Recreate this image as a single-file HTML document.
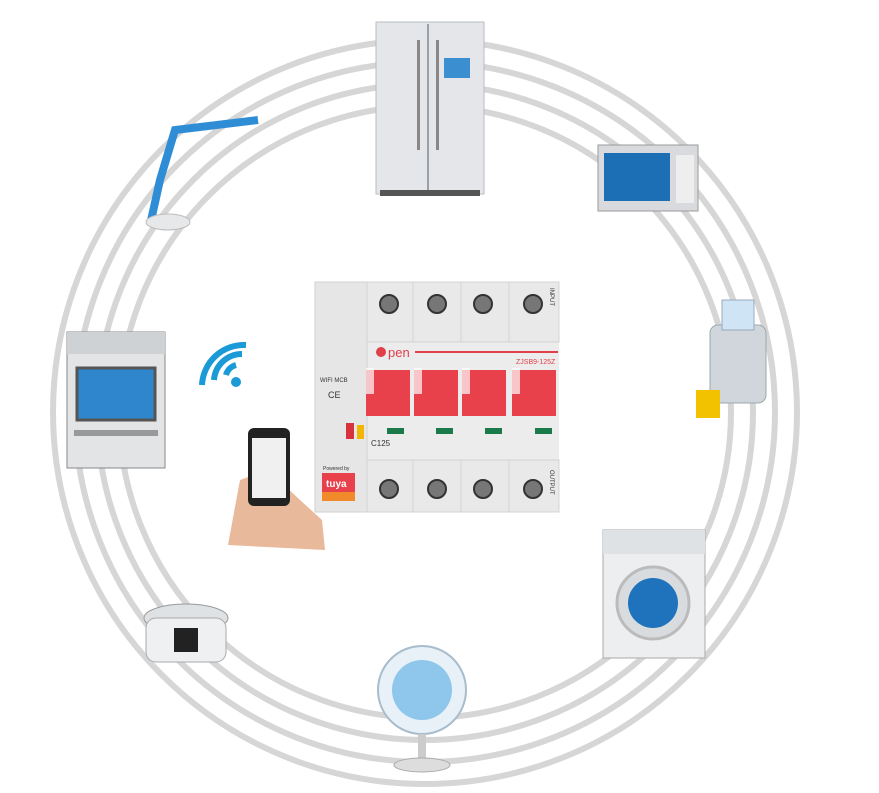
<!DOCTYPE html>
<html><head><meta charset="utf-8"><style>
html,body{margin:0;padding:0;background:#fff;width:879px;height:793px;overflow:hidden}
svg{display:block}
text{font-family:"Liberation Sans",sans-serif}
</style></head><body>
<svg width="879" height="793" viewBox="0 0 879 793">
<g fill="none" stroke="#d6d6d6" stroke-width="6">
<circle cx="425" cy="412" r="372"/>
<circle cx="425" cy="412" r="350"/>
<circle cx="425" cy="412" r="328"/>
<circle cx="425" cy="412" r="306"/>
</g>
<!-- fridge -->
<rect x="376" y="22" width="108" height="172" fill="#e4e6ea" stroke="#b8bcc2"/>
<line x1="428" y1="24" x2="428" y2="192" stroke="#9aa0a8" stroke-width="2"/>
<rect x="417" y="40" width="3" height="110" fill="#888"/><rect x="436" y="40" width="3" height="110" fill="#888"/>
<rect x="444" y="58" width="26" height="20" fill="#3b8fd0"/>
<rect x="380" y="190" width="100" height="6" fill="#555"/>
<!-- microwave -->
<rect x="598" y="145" width="100" height="66" fill="#d8dadd" stroke="#999"/>
<rect x="604" y="153" width="66" height="48" fill="#1d6fb5"/>
<rect x="676" y="155" width="18" height="48" fill="#eee"/>
<!-- lamp -->
<path d="M150 225 L160 180 L175 130 L258 120" stroke="#2f8dd6" stroke-width="8" fill="none"/>
<ellipse cx="168" cy="222" rx="22" ry="8" fill="#e6e8ea" stroke="#bbb"/>
<!-- juicer -->
<rect x="710" y="325" width="56" height="78" rx="8" fill="#d0d6dc" stroke="#9aa"/>
<rect x="722" y="300" width="32" height="30" fill="#cfe4f4" stroke="#9ab"/>
<rect x="696" y="390" width="24" height="28" fill="#f2c200"/>
<!-- oven -->
<rect x="67" y="332" width="98" height="136" fill="#e2e4e6" stroke="#888"/>
<rect x="67" y="332" width="98" height="22" fill="#cfd2d5"/>
<rect x="77" y="368" width="78" height="52" fill="#2f86cc" stroke="#555" stroke-width="3"/>
<rect x="74" y="430" width="84" height="6" fill="#999"/>
<!-- wifi -->
<g fill="none" stroke="#1a9ad6" stroke-width="6">
<path d="M226 375 a14 14 0 0 1 10 -10"/>
<path d="M214 380 a28 28 0 0 1 28 -26"/>
<path d="M202 385 a42 42 0 0 1 44 -40"/>
</g>
<circle cx="236" cy="382" r="5" fill="#1a9ad6"/>
<!-- phone + hand -->
<path d="M228 545 L240 480 L268 470 L300 500 L322 520 L325 550 Z" fill="#e8b99a"/>
<rect x="248" y="428" width="42" height="78" rx="6" fill="#222"/>
<rect x="252" y="438" width="34" height="60" fill="#f0f0f0"/>
<!-- breaker -->
<rect x="315" y="282" width="244" height="230" fill="#ececec"/>
<rect x="315" y="282" width="52" height="230" fill="#e6e6e6" stroke="#d2d2d2"/>
<g fill="#e9e9e9" stroke="#d4d4d4">
<rect x="367" y="282" width="46" height="60"/><rect x="413" y="282" width="48" height="60"/><rect x="461" y="282" width="48" height="60"/><rect x="509" y="282" width="50" height="60"/>
<rect x="367" y="460" width="46" height="52"/><rect x="413" y="460" width="48" height="52"/><rect x="461" y="460" width="48" height="52"/><rect x="509" y="460" width="50" height="52"/>
</g>
<g fill="#777" stroke="#333" stroke-width="2">
<circle cx="389" cy="304" r="9"/><circle cx="437" cy="304" r="9"/><circle cx="483" cy="304" r="9"/><circle cx="533" cy="304" r="9"/>
<circle cx="389" cy="489" r="9"/><circle cx="437" cy="489" r="9"/><circle cx="483" cy="489" r="9"/><circle cx="533" cy="489" r="9"/>
</g>
<line x1="415" y1="352" x2="558" y2="352" stroke="#e0404a" stroke-width="2"/>
<circle cx="381" cy="352" r="5" fill="#e0404a"/>
<text x="388" y="357" font-size="13" fill="#e0404a">pen</text>
<text x="516" y="364" font-size="7" fill="#e0404a">ZJSB9-125Z</text>
<g fill="#e8414c">
<rect x="366" y="370" width="44" height="46"/><rect x="414" y="370" width="44" height="46"/><rect x="462" y="370" width="44" height="46"/><rect x="512" y="370" width="44" height="46"/>
</g>
<g fill="#fff" opacity=".7"><rect x="366" y="368" width="8" height="26"/><rect x="414" y="368" width="8" height="26"/><rect x="462" y="368" width="8" height="26"/><rect x="512" y="368" width="8" height="26"/></g>
<g fill="#1a7a4a"><rect x="387" y="428" width="17" height="6"/><rect x="436" y="428" width="17" height="6"/><rect x="485" y="428" width="17" height="6"/><rect x="535" y="428" width="17" height="6"/></g>
<rect x="346" y="423" width="8" height="16" fill="#d8323c"/><rect x="357" y="425" width="7" height="14" fill="#f2b600"/>
<text x="320" y="382" font-size="6" fill="#333">WIFI MCB</text>
<text x="328" y="398" font-size="9" fill="#333">CE</text>
<text x="371" y="446" font-size="8" fill="#333">C125</text>
<text x="323" y="470" font-size="5" fill="#333">Powered by</text>
<rect x="322" y="473" width="33" height="28" fill="#e8414c"/>
<rect x="322" y="492" width="33" height="9" fill="#f08a2a"/>
<text x="326" y="487" font-size="10" fill="#fff" font-weight="bold">tuya</text>
<text x="550" y="288" font-size="6" fill="#333" transform="rotate(90 550 288)">INPUT</text>
<text x="550" y="470" font-size="6" fill="#333" transform="rotate(90 550 470)">OUTPUT</text>
<!-- washer -->
<rect x="603" y="530" width="102" height="128" fill="#eceef0" stroke="#aaa"/>
<rect x="603" y="530" width="102" height="24" fill="#dfe2e5"/>
<circle cx="653" cy="603" r="36" fill="#d8dcdf" stroke="#bbb" stroke-width="3"/>
<circle cx="653" cy="603" r="25" fill="#1e73bc"/>
<!-- pot -->
<ellipse cx="186" cy="618" rx="42" ry="14" fill="#dfe2e4" stroke="#999"/>
<rect x="146" y="618" width="80" height="44" rx="10" fill="#eef0f2" stroke="#aaa"/>
<rect x="174" y="628" width="24" height="24" fill="#222"/>
<!-- fan -->
<circle cx="422" cy="690" r="44" fill="#e8f1f7" stroke="#a8bccc" stroke-width="2"/>
<circle cx="422" cy="690" r="30" fill="#8ec6ec"/>
<rect x="418" y="734" width="8" height="28" fill="#ccc"/>
<ellipse cx="422" cy="765" rx="28" ry="7" fill="#ddd" stroke="#aaa"/>
</svg>
</body></html>
